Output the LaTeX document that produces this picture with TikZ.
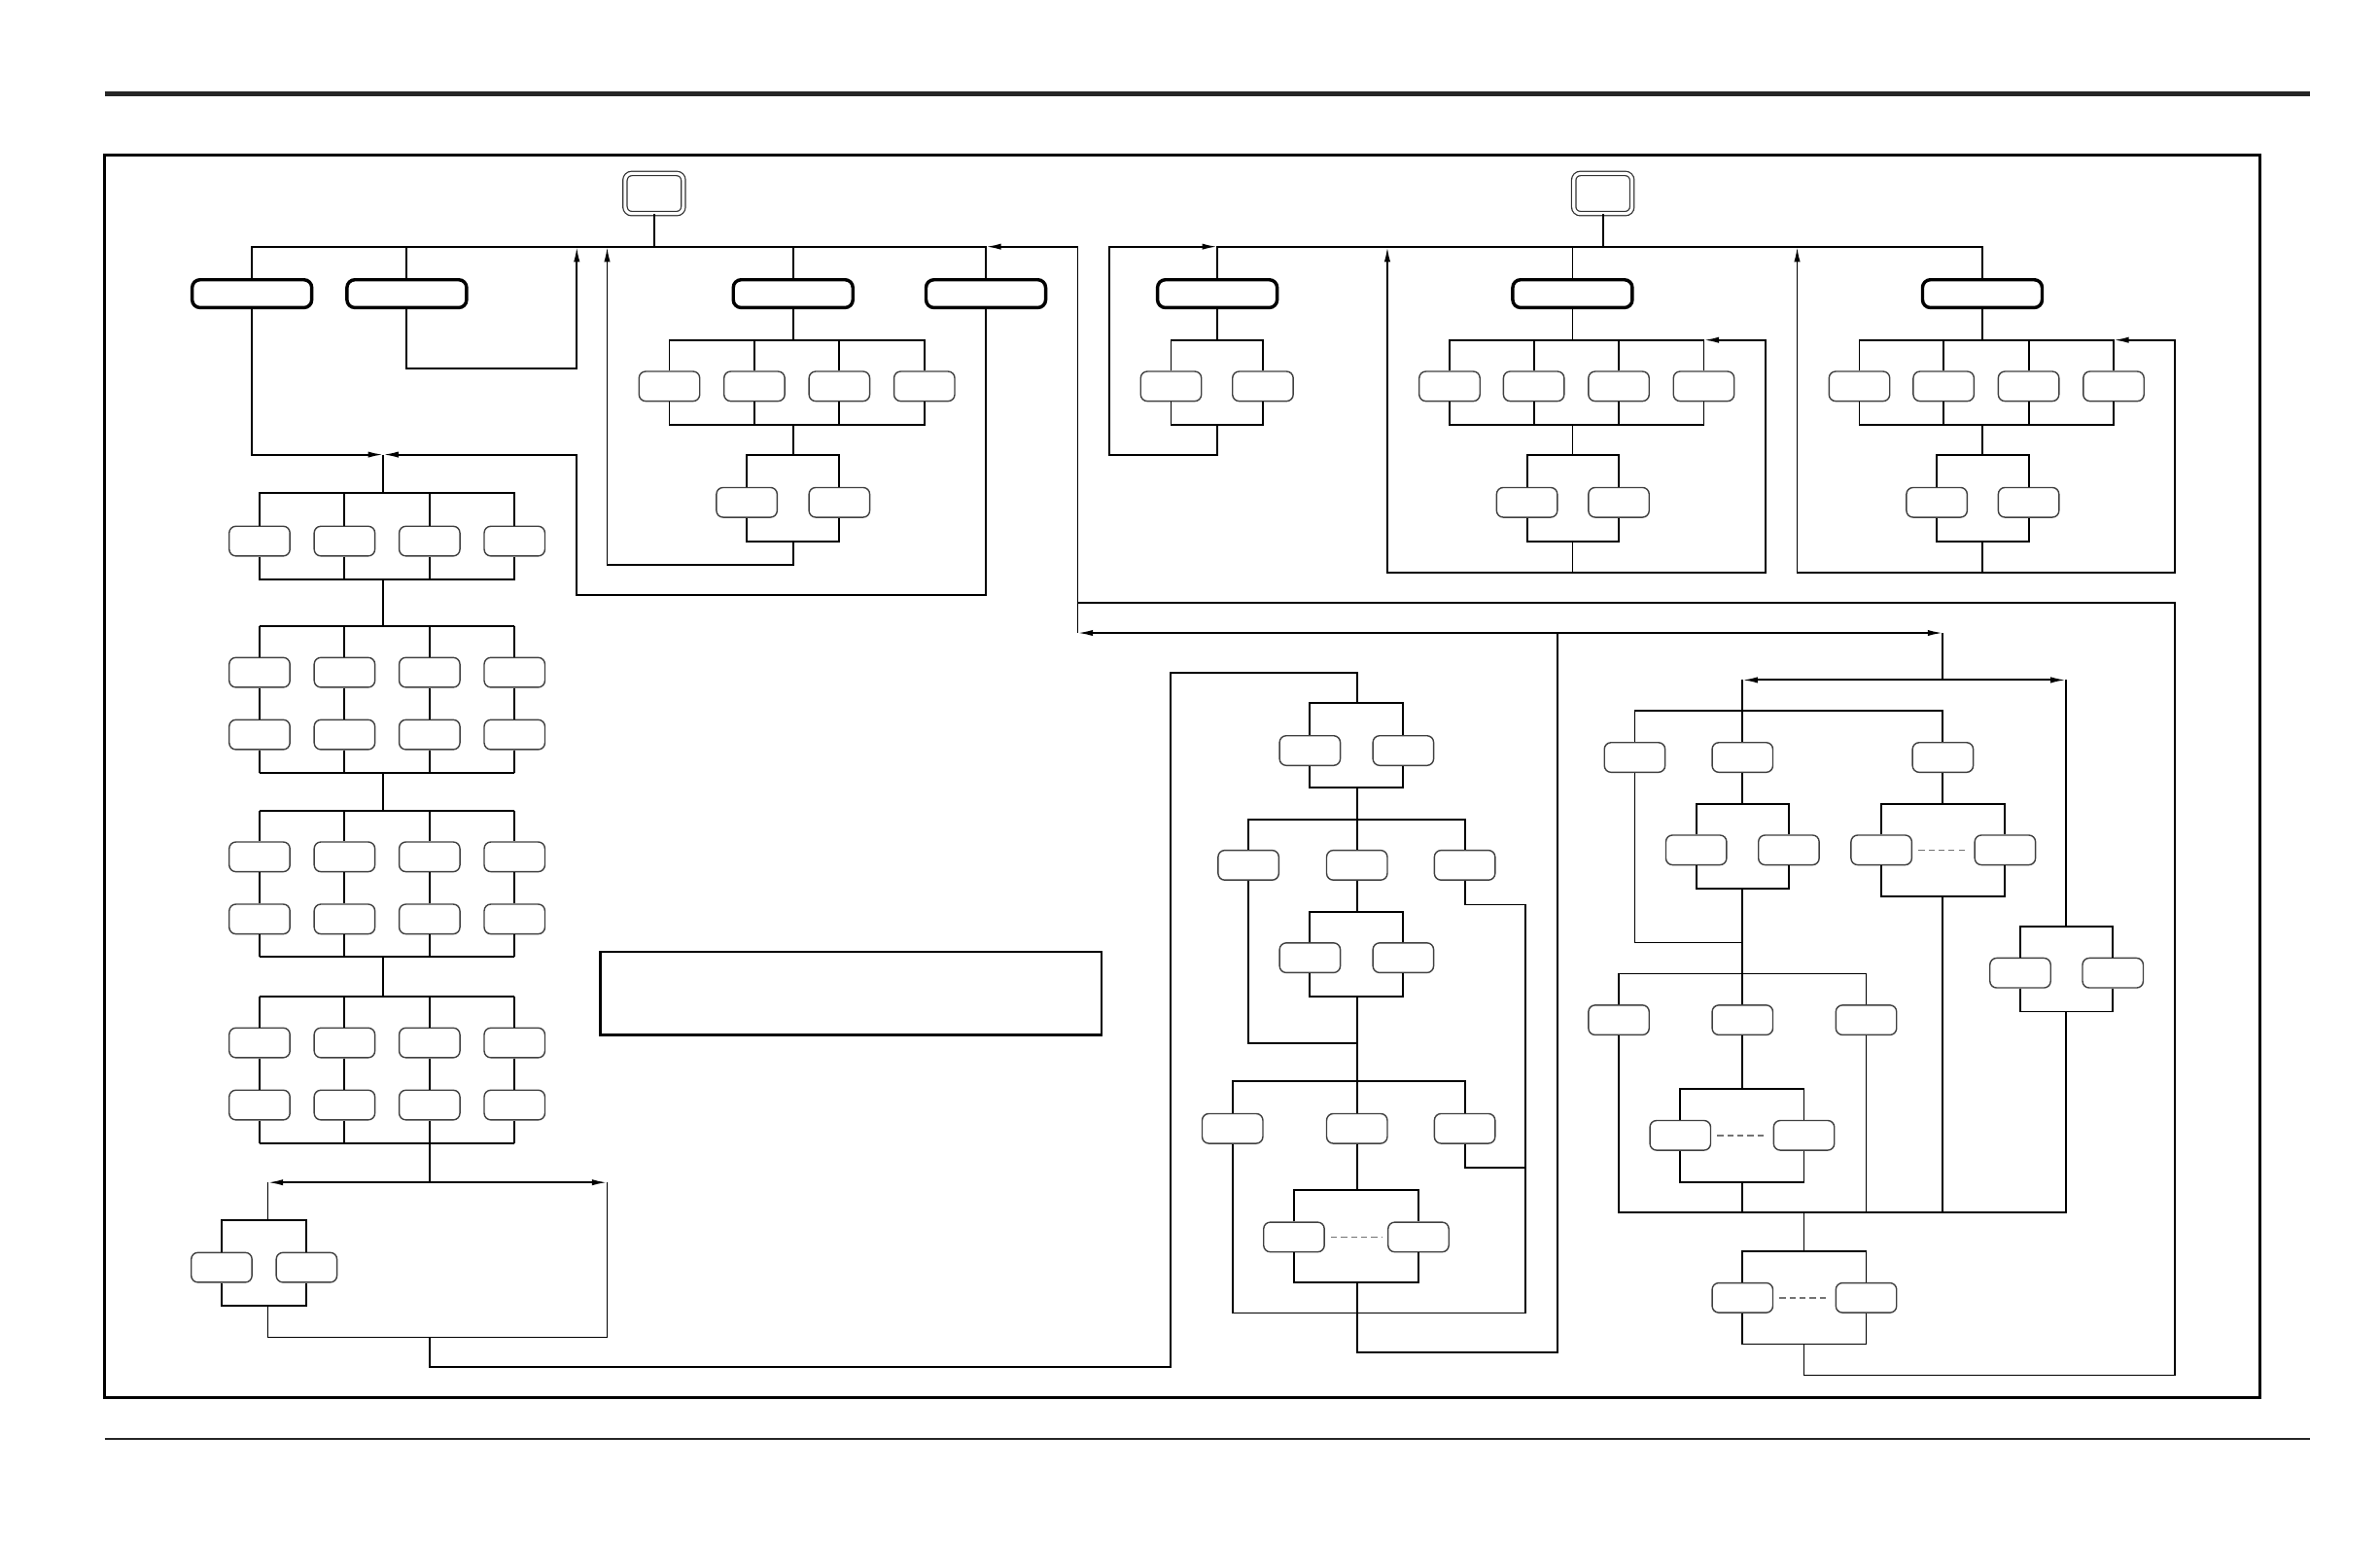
\documentclass[tikz,border=0pt]{standalone}
\usepackage{tikz}
\usetikzlibrary{arrows.meta,positioning,calc}

\begin{document}
\begin{tikzpicture}[
    x=0.5pt, y=-0.5pt,
    box/.style={rectangle, draw=black!75, fill=white, rounded corners=2.2pt, minimum width=20pt, minimum height=9.8pt, inner sep=0pt, line width=0.45pt},
    headbox/.style={rectangle, draw, fill=white, rounded corners=2.6pt, minimum width=39.4pt, minimum height=9.2pt, inner sep=0pt, line width=1.1pt},
    entry/.style={rectangle, draw=black!80, double, double distance=1pt, line width=0.4pt, rounded corners=2.2pt, minimum width=19.2pt, minimum height=13.2pt, inner sep=0pt},
    wire/.style={line width=0.6pt},
    arrow/.style={wire, -{Latex[length=5pt,width=2pt]}},
    gapline/.style={draw=black!55, dash pattern=on 2pt off 1.3pt, line width=0.45pt, shorten <=2pt, shorten >=2pt}
]
\useasboundingbox (0,0) rectangle (1568,1015);

% page rules and frame
\draw[line width=1.6pt, black!85] (69,62) -- (1522,62);
\draw[line width=0.9pt] (69,102) rectangle (1489,921);
\draw[line width=0.8pt, black!85] (69,948) -- (1522,948);

% ---------- left tree ----------
\node[entry] (startA) at (431,127.5) {};
\foreach \n/\x in {1/166,2/268,3/522.5,4/649.5}
  \node[headbox] (hA\n) at (\x,193.5) {};
\coordinate (busA) at (431,162.5);
\draw[wire] (startA) -- (busA);
\draw[wire] (hA1.north) |- (busA) -| (hA4.north);
\draw[wire] (hA2.north) -- (hA2.north |- busA);
\draw[wire] (hA3.north) -- (hA3.north |- busA);

\coordinate (backA2) at (380,243);
\draw[arrow] (hA2.south) |- (backA2) -- (backA2 |- busA);

% branch under hA3
\foreach \n/\x in {1/441,2/497,3/553,4/609}
  \node[box] (gA\n) at (\x,254.5) {};
\coordinate (gAtop) at (522.5,224);
\coordinate (gAbot) at (522.5,280);
\draw[wire] (hA3.south) -- (gAtop);
\draw[wire] (gA1.north) |- (gAtop) -| (gA4.north);
\draw[wire] (gA1.south) |- (gAbot) -| (gA4.south);
\foreach \n in {2,3}
  \draw[wire] (gA\n.north) -- (gA\n.north |- gAtop) (gA\n.south) -- (gA\n.south |- gAbot);
\foreach \n/\x in {1/492,2/553}
  \node[box] (kA\n) at (\x,331) {};
\coordinate (kAtop) at (522.5,300);
\coordinate (kAbot) at (522.5,356.5);
\draw[wire] (gAbot) -- (kAtop);
\draw[wire] (kA1.north) |- (kAtop) -| (kA2.north);
\draw[wire] (kA1.south) |- (kAbot) -| (kA2.south);
\coordinate (backA3) at (400,372);
\draw[arrow] (kAbot) |- (backA3) -- (backA3 |- busA);

% join above the column
\coordinate (joinA) at (252.5,299.5);
\coordinate (backA4) at (380,392);
\draw[arrow] (hA1.south) |- (joinA);
\draw[arrow] (hA4.south) |- (backA4) |- (joinA);

% column of groups
\foreach \n/\x in {1/171,2/227,3/283,4/339}
  \node[box] (p\n) at (\x,356.5) {};
\coordinate (pTop) at (252.5,325);
\coordinate (pBot) at (252.5,382);
\draw[wire] (joinA) -- (pTop);
\draw[wire] (p1.north) |- (pTop) -| (p4.north);
\draw[wire] (p1.south) |- (pBot) -| (p4.south);
\foreach \n in {2,3}
  \draw[wire] (p\n.north) -- (p\n.north |- pTop) (p\n.south) -- (p\n.south |- pBot);

\foreach \g/\t in {l2/412.5,l3/534,l4/656.5} {
  \coordinate (\g top) at (252.5,\t);
  \coordinate (\g bot) at (252.5,\t+96.5);
  \foreach \n/\x in {1/171,2/227,3/283,4/339} {
    \node[box] (\g a\n) at (\x,\t+30.5) {};
    \node[box] (\g b\n) at (\x,\t+71.5) {};
    \draw[wire] (\g a\n.north |- \g top) -- (\g a\n.north)
                (\g a\n.south) -- (\g b\n.north)
                (\g b\n.south) -- (\g b\n.south |- \g bot);
  }
  \draw[wire] (\g a1.north |- \g top) -- (\g a4.north |- \g top);
  \draw[wire] (\g b1.south |- \g bot) -- (\g b4.south |- \g bot);
}
\draw[wire] (pBot) -- (l2top);
\draw[wire] (l2bot) -- (l3top);
\draw[wire] (l3bot) -- (l4top);

\coordinate (splitL) at (283,779);
\coordinate (cornL) at (176.5,779);
\coordinate (cornR) at (400,779);
\draw[wire] (splitL |- l4bot) -- (splitL);
\draw[arrow] (splitL) -- (cornL);
\draw[arrow] (splitL) -- (cornR);

\node[box] (t1) at (146,835) {};
\node[box] (t2) at (202,835) {};
\coordinate (l5top) at (176.5,804);
\coordinate (l5bot) at (176.5,860);
\draw[wire] (cornL) -- (l5top);
\draw[wire] (t1.north) |- (l5top) -| (t2.north);
\draw[wire] (t1.south) |- (l5bot) -| (t2.south);
\coordinate (mergeL) at (283,881);
\draw[wire] (l5bot) |- (mergeL) -| (cornR);

\coordinate (lowL) at (771,900.5);
\coordinate (entM) at (894,443);
\coordinate (m1top) at (894,463);
\draw[wire] (mergeL) |- (lowL) |- (entM) -- (m1top);

% empty note box
\node[draw, line width=0.7pt, minimum width=165pt, minimum height=27.3pt, inner sep=0pt] (note) at (560.5,654.5) {};

% ---------- right tree ----------
\node[entry] (startB) at (1056,127.5) {};
\foreach \n/\x in {1/802,2/1036,3/1306}
  \node[headbox] (hB\n) at (\x,193.5) {};
\coordinate (busB) at (1056,162.5);
\draw[wire] (startB) -- (busB);
\draw[wire] (hB1.north) |- (busB) -| (hB3.north);
\draw[wire] (hB2.north) -- (hB2.north |- busB);

\node[box] (gB1) at (771.5,254.5) {};
\node[box] (gB2) at (832,254.5) {};
\coordinate (gBtop) at (802,224);
\coordinate (gBbot) at (802,280);
\draw[wire] (hB1.south) -- (gBtop);
\draw[wire] (gB1.north) |- (gBtop) -| (gB2.north);
\draw[wire] (gB1.south) |- (gBbot) -| (gB2.south);
\coordinate (backB1) at (731,300);
\draw[arrow] (gBbot) |- (backB1) |- (hB1.north |- busB);

\foreach \g/\c in {B2/1036,B3/1306} {
  \coordinate (\g top) at (\c,224);
  \coordinate (\g bot) at (\c,280);
  \coordinate (\g mid) at (\c,300);
  \coordinate (\g end) at (\c,356.5);
  \coordinate (\g low) at (\c,377);
  \coordinate (\g up) at (\c-122,377);
  \coordinate (\g loop) at (\c+127,377);
  \foreach \n/\d in {1/-81,2/-25.5,3/30.5,4/86.5}
    \node[box] (\g g\n) at ({\c+\d},254.5) {};
  \foreach \n/\d in {1/-30,2/30.5}
    \node[box] (\g k\n) at ({\c+\d},331) {};
  \draw[wire] (h\g.south) -- (\g top);
  \draw[wire] (\g g1.north) |- (\g top) -| (\g g4.north);
  \draw[wire] (\g g1.south) |- (\g bot) -| (\g g4.south);
  \draw[wire] (\g g2.north) -- (\g g2.north |- \g top) (\g g3.north) -- (\g g3.north |- \g top)
              (\g g2.south) -- (\g g2.south |- \g bot) (\g g3.south) -- (\g g3.south |- \g bot);
  \draw[wire] (\g bot) -- (\g mid);
  \draw[wire] (\g k1.north) |- (\g mid) -| (\g k2.north);
  \draw[wire] (\g k1.south) |- (\g end) -| (\g k2.south);
  \draw[arrow] (\g end) -- (\g low) -- (\g up) -- (\g up |- busB);
  \draw[arrow] (\g low) -- (\g loop) |- (\g g4.north |- \g top);
}

% ---------- middle flow ----------
\node[box] (m1a) at (863,494.5) {};
\node[box] (m1b) at (924.5,494.5) {};
\coordinate (m1bot) at (894,519);
\draw[wire] (m1a.north) |- (m1top) -| (m1b.north);
\draw[wire] (m1a.south) |- (m1bot) -| (m1b.south);

\node[box] (m2a) at (822.5,570) {};
\node[box] (m2b) at (894,570) {};
\node[box] (m2c) at (965,570) {};
\coordinate (m2top) at (894,540);
\draw[wire] (m1bot) -- (m2top);
\draw[wire] (m2a.north) |- (m2top) -| (m2c.north);
\draw[wire] (m2b.north) -- (m2top);

\node[box] (m3a) at (863,631) {};
\node[box] (m3b) at (924.5,631) {};
\coordinate (m3top) at (894,601);
\coordinate (m3bot) at (894,656.5);
\coordinate (m3join) at (894,687);
\draw[wire] (m2b.south) -- (m3top);
\draw[wire] (m3a.north) |- (m3top) -| (m3b.north);
\draw[wire] (m3a.south) |- (m3bot) -| (m3b.south);
\draw[wire] (m2a.south) |- (m3join);

\node[box] (m4a) at (812,743.5) {};
\node[box] (m4b) at (894,743.5) {};
\node[box] (m4c) at (965,743.5) {};
\coordinate (m4top) at (894,712);
\draw[wire] (m3bot) -- (m4top);
\draw[wire] (m4a.north) |- (m4top) -| (m4c.north);
\draw[wire] (m4b.north) -- (m4top);

\coordinate (mR1) at (1005,596);
\coordinate (mR2) at (1005,769);
\coordinate (mR3) at (1005,865);
\draw[wire] (m2c.south) |- (mR1) -- (mR3) -| (m4a.south);
\draw[wire] (m4c.south) |- (mR2);

\node[box] (m5a) at (852.5,815) {};
\node[box] (m5b) at (934.5,815) {};
\coordinate (m5top) at (894,784);
\coordinate (m5bot) at (894,845);
\draw[wire] (m4b.south) -- (m5top);
\draw[wire] (m5a.north) |- (m5top) -| (m5b.north);
\draw[wire] (m5a.south) |- (m5bot) -| (m5b.south);
\draw[gapline] (m5a.east) -- (m5b.west);

\coordinate (mexit) at (1026,891);
\coordinate (forkM) at (1026,417);
\coordinate (retTop) at (710,417);
\coordinate (forkR) at (1280,417);
\draw[wire] (m5bot) |- (mexit) -- (forkM);
\draw[arrow] (forkM) -- (retTop);
\draw[arrow] (forkM) -- (forkR);
\draw[arrow] (retTop) |- (hA4.north |- busA);

% ---------- right flow ----------
\coordinate (splitR) at (1280,448);
\coordinate (cornR1) at (1148,448);
\coordinate (cornR2) at (1361,448);
\draw[wire] (forkR) -- (splitR);
\draw[arrow] (splitR) -- (cornR1);
\draw[arrow] (splitR) -- (cornR2);

\node[box] (r1a) at (1077,499) {};
\node[box] (r1b) at (1148,499) {};
\node[box] (r1c) at (1280,499) {};
\coordinate (r1top) at (1148,468.5);
\draw[wire] (cornR1) -- (r1top);
\draw[wire] (r1a.north) |- (r1top) -| (r1c.north);
\draw[wire] (r1b.north) -- (r1top);

\node[box] (r2a) at (1117.5,560) {};
\node[box] (r2b) at (1178.5,560) {};
\coordinate (r2top) at (1148,529.5);
\coordinate (r2bot) at (1148,585.5);
\coordinate (r2join) at (1148,621);
\draw[wire] (r1b.south) -- (r2top);
\draw[wire] (r2a.north) |- (r2top) -| (r2b.north);
\draw[wire] (r2a.south) |- (r2bot) -| (r2b.south);
\draw[wire] (r1a.south) |- (r2join);

\node[box] (r3a) at (1239.5,560) {};
\node[box] (r3b) at (1321,560) {};
\coordinate (r3top) at (1280,529.5);
\coordinate (r3bot) at (1280,590.5);
\draw[wire] (r1c.south) -- (r3top);
\draw[wire] (r3a.north) |- (r3top) -| (r3b.north);
\draw[wire] (r3a.south) |- (r3bot) -| (r3b.south);
\draw[gapline] (r3a.east) -- (r3b.west);

\node[box] (r6a) at (1331,641) {};
\node[box] (r6b) at (1392,641) {};
\coordinate (r6top) at (1361,610.5);
\coordinate (r6bot) at (1361,666.5);
\draw[wire] (cornR2) -- (r6top);
\draw[wire] (r6a.north) |- (r6top) -| (r6b.north);
\draw[wire] (r6a.south) |- (r6bot) -| (r6b.south);

\node[box] (r4a) at (1066.5,672) {};
\node[box] (r4b) at (1148,672) {};
\node[box] (r4c) at (1229.5,672) {};
\coordinate (r4top) at (1148,641.5);
\draw[wire] (r2bot) -- (r4top);
\draw[wire] (r4a.north) |- (r4top) -| (r4c.north);
\draw[wire] (r4b.north) -- (r4top);

\node[box] (r5a) at (1107,748) {};
\node[box] (r5b) at (1188.5,748) {};
\coordinate (r5top) at (1148,717.5);
\coordinate (r5bot) at (1148,779);
\draw[wire] (r4b.south) -- (r5top);
\draw[wire] (r5a.north) |- (r5top) -| (r5b.north);
\draw[wire] (r5a.south) |- (r5bot) -| (r5b.south);
\draw[gapline] (r5a.east) -- (r5b.west);

\coordinate (rjoin) at (1188.5,799);
\draw[wire] (r4a.south) |- (r6bot |- rjoin) -- (r6bot);
\draw[wire] (r4c.south) -- (r4c.south |- rjoin);
\draw[wire] (r5bot) -- (r5bot |- rjoin);
\draw[wire] (r3bot) -- (r3bot |- rjoin);

\node[box] (r7a) at (1148,855) {};
\node[box] (r7b) at (1229.5,855) {};
\coordinate (r7top) at (1188.5,824.5);
\coordinate (r7bot) at (1188.5,885.5);
\draw[wire] (rjoin) -- (r7top);
\draw[wire] (r7a.north) |- (r7top) -| (r7b.north);
\draw[wire] (r7a.south) |- (r7bot) -| (r7b.south);
\draw[gapline] (r7a.east) -- (r7b.west);

\coordinate (rExit) at (1433,906);
\coordinate (rTurn) at (1433,397);
\draw[wire] (r7bot) |- (rExit) -- (rTurn) -- (retTop |- rTurn);
\end{tikzpicture}
\end{document}
